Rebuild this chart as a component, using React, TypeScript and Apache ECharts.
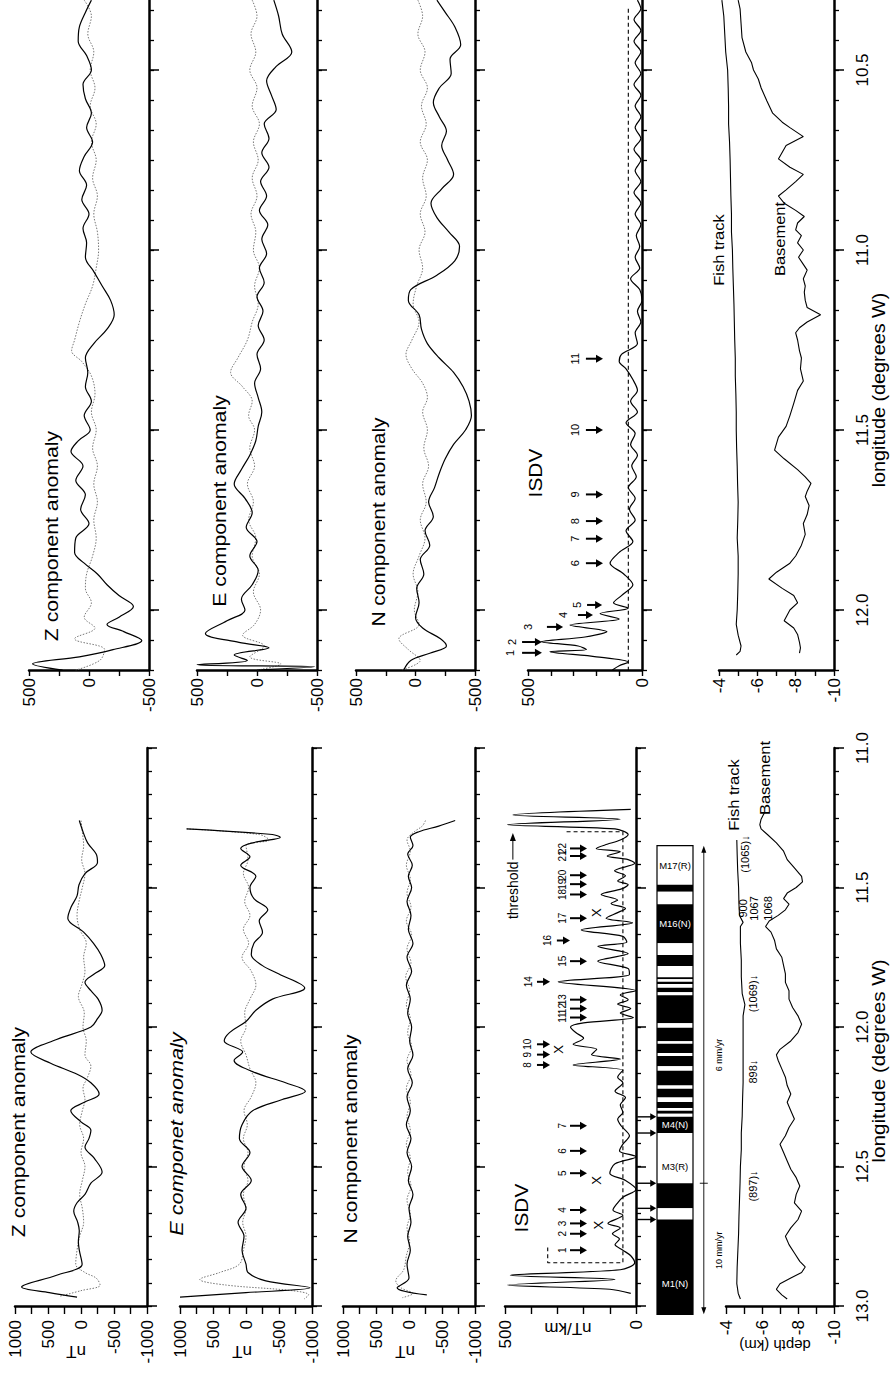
import React, { useEffect, useRef } from "react";
import * as echarts from "echarts";

// ================= DATA =================
// longitude tick values (degrees W); minor ticks every 5 minutes
const topMajorLon = [10.5, 11.0, 11.5, 12.0];
const botMajorLon = [11.0, 11.5, 12.0, 12.5, 13.0];
const topMinorLon = Array.from({ length: 23 }, (_, k) => (124 + k) / 12);
const botMinorLon = Array.from({ length: 25 }, (_, k) => (132 + k) / 12);

// ---- upper profile: [longitude, value] ----
const topZSolid = [[10.306,-20],[10.34,30],[10.38,80],[10.42,90],[10.46,20],[10.5,-20],[10.54,50],[10.58,30],[10.62,-20],[10.66,20],[10.7,-30],[10.74,40],[10.78,80],[10.82,20],[10.86,60],[10.9,0],[10.94,50],[10.98,20],[11.02,30],[11.06,-40],[11.1,-110],[11.14,-180],[11.18,-210],[11.22,-150],[11.26,-40],[11.3,30],[11.34,10],[11.38,30],[11.42,-20],[11.46,40],[11.5,-10],[11.53,90],[11.56,150],[11.6,50],[11.64,110],[11.68,30],[11.72,70],[11.76,0],[11.8,110],[11.84,120],[11.87,40],[11.9,-70],[11.93,-150],[11.96,-250],[11.99,-370],[12.02,-250],[12.04,-150],[12.06,-290],[12.085,-440],[12.11,-200],[12.13,80],[12.15,470],[12.167,220]];
const topZDot = [[10.306,40],[10.35,-20],[10.4,10],[10.45,-40],[10.5,-10],[10.55,-50],[10.6,-10],[10.65,-60],[10.7,-20],[10.75,-60],[10.8,-30],[10.85,-70],[10.9,-40],[10.95,-70],[11.0,-80],[11.05,-60],[11.1,-30],[11.15,30],[11.2,80],[11.25,120],[11.28,145],[11.31,60],[11.35,-20],[11.4,-50],[11.45,-20],[11.5,-60],[11.55,-30],[11.6,-70],[11.65,-40],[11.7,-70],[11.75,-40],[11.8,-60],[11.85,-30],[11.9,20],[11.94,30],[11.98,-20],[12.02,40],[12.05,-50],[12.08,120],[12.11,-130],[12.14,-90],[12.167,110]];
const topESolid = [[10.306,-140],[10.35,-180],[10.4,-210],[10.45,-290],[10.49,-160],[10.53,-80],[10.57,-120],[10.61,-160],[10.65,-60],[10.69,-100],[10.73,-40],[10.77,-100],[10.81,-30],[10.85,-80],[10.89,-20],[10.93,-90],[10.97,-40],[11.01,-80],[11.05,-20],[11.09,-60],[11.13,0],[11.17,-50],[11.21,-10],[11.25,-60],[11.29,0],[11.33,-30],[11.37,20],[11.41,-10],[11.45,-40],[11.49,-10],[11.53,10],[11.57,60],[11.61,130],[11.65,190],[11.69,100],[11.73,40],[11.77,90],[11.81,0],[11.85,60],[11.89,-10],[11.93,40],[11.97,130],[12.0,100],[12.03,250],[12.065,430],[12.09,150],[12.105,-100],[12.125,190],[12.14,80],[12.152,500],[12.158,-480],[12.167,0]];
const topEDot = [[10.306,40],[10.35,0],[10.4,50],[10.45,10],[10.5,60],[10.55,0],[10.6,40],[10.65,-20],[10.7,30],[10.75,-10],[10.8,40],[10.85,0],[10.9,50],[10.95,10],[11.0,30],[11.05,-20],[11.1,20],[11.15,-10],[11.2,40],[11.25,80],[11.3,160],[11.34,220],[11.38,120],[11.42,40],[11.46,70],[11.5,20],[11.55,60],[11.6,20],[11.65,80],[11.7,30],[11.75,70],[11.8,10],[11.85,40],[11.9,-20],[11.95,30],[12.0,-30],[12.04,20],[12.07,120],[12.1,-60],[12.13,60],[12.15,-200],[12.167,0]];
const topNSolid = [[10.306,-180],[10.34,-250],[10.38,-330],[10.43,-380],[10.47,-290],[10.51,-300],[10.55,-200],[10.59,-150],[10.63,-200],[10.67,-260],[10.71,-220],[10.75,-270],[10.79,-320],[10.83,-220],[10.87,-130],[10.91,-180],[10.95,-280],[10.99,-370],[11.03,-330],[11.07,-180],[11.11,40],[11.14,60],[11.18,-30],[11.22,-50],[11.26,-100],[11.3,-200],[11.34,-320],[11.38,-400],[11.42,-450],[11.46,-470],[11.5,-420],[11.54,-320],[11.58,-250],[11.62,-200],[11.66,-160],[11.7,-110],[11.74,-150],[11.78,-80],[11.82,-120],[11.86,-40],[11.9,-70],[11.94,-10],[11.98,-30],[12.02,0],[12.05,-60],[12.08,-210],[12.1,-260],[12.12,-120],[12.14,40],[12.167,100]];
const topNDot = [[10.306,-20],[10.35,-60],[10.4,-20],[10.45,-80],[10.5,-40],[10.55,-100],[10.6,-50],[10.65,-90],[10.7,-40],[10.75,-100],[10.8,-60],[10.85,-90],[10.9,-40],[10.95,-80],[11.0,-30],[11.05,-60],[11.1,-10],[11.15,20],[11.2,-30],[11.25,30],[11.29,80],[11.33,30],[11.37,-60],[11.41,-100],[11.45,-60],[11.5,-100],[11.55,-70],[11.6,-110],[11.65,-60],[11.7,-90],[11.75,-40],[11.8,-80],[11.85,-30],[11.9,20],[11.95,-20],[12.0,10],[12.04,-30],[12.08,140],[12.11,60],[12.14,-40],[12.167,120]];
const topISDV = [[10.306,20],[10.33,5],[10.36,35],[10.39,5],[10.42,35],[10.45,5],[10.48,30],[10.51,5],[10.54,35],[10.57,5],[10.6,30],[10.63,5],[10.66,30],[10.69,5],[10.72,35],[10.75,5],[10.78,30],[10.81,5],[10.84,35],[10.87,5],[10.9,30],[10.93,5],[10.96,25],[10.99,10],[11.02,30],[11.05,10],[11.08,50],[11.11,10],[11.14,0],[11.17,20],[11.2,5],[11.23,30],[11.26,20],[11.29,90],[11.31,100],[11.33,70],[11.36,40],[11.39,20],[11.42,50],[11.45,20],[11.48,70],[11.51,30],[11.54,50],[11.57,20],[11.6,45],[11.63,25],[11.66,60],[11.69,30],[11.72,55],[11.75,30],[11.78,70],[11.81,40],[11.84,100],[11.87,140],[11.9,80],[11.93,40],[11.96,90],[11.98,125],[11.995,60],[12.01,184],[12.025,100],[12.042,316],[12.06,154],[12.075,250],[12.088,441],[12.1,280],[12.11,243],[12.116,404],[12.13,200],[12.145,60],[12.155,100],[12.167,130]];
const topThreshold = [[10.33,60],[12.167,60]];
const topFish = [[10.306,-4.15],[10.35,-4.25],[10.4,-4.3],[10.45,-4.35],[10.5,-4.45],[10.55,-4.48],[10.6,-4.5],[10.65,-4.5],[10.7,-4.55],[10.75,-4.58],[10.8,-4.6],[10.85,-4.62],[10.9,-4.65],[10.95,-4.65],[11.0,-4.7],[11.05,-4.72],[11.1,-4.75],[11.15,-4.78],[11.2,-4.8],[11.25,-4.82],[11.3,-4.85],[11.35,-4.85],[11.4,-4.88],[11.45,-4.9],[11.5,-4.9],[11.55,-4.92],[11.6,-4.95],[11.65,-4.97],[11.7,-5.0],[11.75,-4.98],[11.8,-4.95],[11.85,-5.0],[11.9,-5.0],[11.95,-4.98],[12.0,-4.95],[12.04,-4.9],[12.07,-5.0],[12.1,-5.15],[12.115,-5.1],[12.125,-4.9]];
const topBase = [[10.306,-5.0],[10.33,-5.1],[10.37,-5.15],[10.41,-5.2],[10.45,-5.4],[10.48,-5.7],[10.5,-5.8],[10.525,-6.05],[10.55,-6.2],[10.586,-6.5],[10.62,-6.8],[10.645,-7.3],[10.66,-7.7],[10.685,-8.4],[10.71,-7.5],[10.747,-7.1],[10.77,-7.7],[10.79,-8.4],[10.81,-8.0],[10.833,-7.5],[10.85,-7.1],[10.87,-7.4],[10.89,-8.0],[10.907,-8.45],[10.925,-8.1],[10.944,-8.0],[10.96,-8.3],[10.98,-8.1],[11.0,-8.4],[11.02,-8.15],[11.04,-8.4],[11.056,-8.6],[11.08,-8.4],[11.1,-8.5],[11.117,-8.45],[11.14,-8.5],[11.16,-8.6],[11.18,-9.3],[11.2,-8.6],[11.216,-8.2],[11.23,-8.0],[11.25,-8.1],[11.28,-8.2],[11.3,-8.3],[11.33,-8.25],[11.364,-8.4],[11.39,-8.1],[11.426,-7.9],[11.46,-7.7],[11.49,-7.5],[11.52,-7.1],[11.556,-6.9],[11.58,-7.4],[11.61,-8.1],[11.63,-8.5],[11.648,-8.8],[11.67,-8.6],[11.685,-8.5],[11.71,-8.7],[11.735,-8.6],[11.76,-8.4],[11.79,-8.5],[11.82,-8.3],[11.85,-8.0],[11.87,-7.7],[11.895,-7.0],[11.914,-6.6],[11.94,-7.3],[11.96,-7.9],[11.98,-8.1],[12.0,-7.7],[12.03,-7.4],[12.05,-7.9],[12.068,-8.1],[12.09,-8.2],[12.105,-8.25],[12.12,-8.2]];
const topPeakLon = [12.119, 12.089, 12.047, 12.014, 11.986, 11.87, 11.802, 11.753, 11.679, 11.5, 11.302];
const topPeakNum = ["1","2","3","4","5","6","7","8","9","10","11"];

// ---- lower profile: [longitude, value] ----
const botZSolid = [[11.26,26],[11.3,-30],[11.34,-100],[11.38,-230],[11.41,-250],[11.45,-60],[11.49,30],[11.53,60],[11.57,150],[11.61,200],[11.66,-40],[11.7,-190],[11.74,-300],[11.78,-360],[11.81,-200],[11.84,-60],[11.87,-150],[11.9,-260],[11.94,-320],[11.97,-250],[12.0,-150],[12.045,370],[12.09,760],[12.13,460],[12.17,50],[12.2,-150],[12.24,-275],[12.27,-50],[12.3,155],[12.34,0],[12.37,-150],[12.4,-120],[12.43,-60],[12.47,-200],[12.52,-320],[12.56,-150],[12.6,-60],[12.63,60],[12.66,110],[12.7,50],[12.73,26],[12.77,40],[12.8,26],[12.85,-17],[12.89,370],[12.932,900],[12.952,480],[12.968,60]];
const botZDot = [[11.26,0],[11.3,-20],[11.35,-40],[11.4,-10],[11.45,-60],[11.5,-20],[11.55,30],[11.6,60],[11.65,20],[11.7,-80],[11.75,-40],[11.8,-60],[11.85,-10],[11.89,40],[11.95,-50],[12.0,-30],[12.05,-80],[12.1,-60],[12.14,-150],[12.18,-100],[12.22,-30],[12.26,-60],[12.3,-20],[12.35,20],[12.4,-40],[12.45,0],[12.5,-60],[12.55,-20],[12.6,20],[12.65,-20],[12.7,-40],[12.75,20],[12.8,60],[12.85,80],[12.88,-60],[12.9,-230],[12.925,-290],[12.945,0],[12.965,320]];
const botESolid = [[11.29,900],[11.31,-400],[11.32,-520],[11.34,-100],[11.36,80],[11.39,-60],[11.42,80],[11.46,-150],[11.5,-60],[11.54,-120],[11.58,-330],[11.62,-200],[11.66,-250],[11.7,-120],[11.74,-80],[11.78,-250],[11.81,-500],[11.86,-890],[11.9,-400],[11.94,-150],[11.98,0],[12.02,250],[12.05,330],[12.09,50],[12.12,180],[12.16,-100],[12.2,-600],[12.23,-900],[12.26,-550],[12.3,-100],[12.35,60],[12.4,100],[12.45,-60],[12.5,60],[12.55,-80],[12.6,80],[12.65,0],[12.7,120],[12.75,30],[12.8,60],[12.85,0],[12.88,-30],[12.91,-300],[12.935,-970],[12.952,0],[12.968,1000]];
const botEDot = [[11.29,900],[11.31,-200],[11.33,-350],[11.35,0],[11.4,-30],[11.45,40],[11.5,-40],[11.55,20],[11.6,-60],[11.65,40],[11.7,-40],[11.75,60],[11.8,-80],[11.85,-150],[11.9,-60],[11.95,20],[12.0,0],[12.05,80],[12.1,0],[12.15,-60],[12.2,-150],[12.25,-80],[12.3,30],[12.35,-20],[12.4,40],[12.45,-30],[12.5,30],[12.55,-30],[12.6,40],[12.65,0],[12.7,50],[12.75,0],[12.8,40],[12.85,100],[12.88,400],[12.905,700],[12.925,300],[12.945,-700],[12.96,-950],[12.975,-880]];
const botNSolid = [[11.26,-700],[11.28,-450],[11.3,-150],[11.32,-20],[11.35,-60],[11.38,20],[11.42,-50],[11.46,10],[11.5,-40],[11.55,30],[11.6,-30],[11.65,10],[11.7,-60],[11.75,30],[11.8,-40],[11.85,40],[11.9,-20],[11.95,20],[12.0,-40],[12.05,-10],[12.1,-60],[12.15,20],[12.2,-50],[12.25,30],[12.3,-20],[12.35,40],[12.4,-30],[12.45,30],[12.5,-40],[12.55,10],[12.6,-60],[12.65,0],[12.7,-30],[12.75,20],[12.8,-20],[12.85,30],[12.9,0],[12.935,180],[12.96,-270]];
const botNDot = [[11.26,-250],[11.28,-200],[11.3,-80],[11.33,30],[11.37,-20],[11.42,40],[11.47,-20],[11.52,30],[11.57,-30],[11.62,40],[11.67,-40],[11.72,30],[11.77,-30],[11.82,50],[11.87,-10],[11.92,40],[11.97,-20],[12.02,20],[12.07,-40],[12.12,30],[12.17,-30],[12.22,40],[12.27,-20],[12.32,30],[12.37,-20],[12.42,40],[12.47,-20],[12.52,20],[12.57,-30],[12.62,30],[12.67,-20],[12.72,30],[12.77,-10],[12.82,40],[12.87,80],[12.91,200],[12.935,120],[12.955,-60],[12.97,100]];
const botISDV = [[11.22,20],[11.24,470],[11.255,60],[11.275,490],[11.29,80],[11.31,30],[11.33,60],[11.345,110],[11.36,152],[11.372,60],[11.387,110],[11.4,30],[11.413,5],[11.44,82],[11.458,40],[11.477,70],[11.49,30],[11.505,55],[11.525,133],[11.545,70],[11.557,95],[11.575,40],[11.59,70],[11.61,114],[11.626,13],[11.652,209],[11.675,50],[11.695,35],[11.711,146],[11.737,30],[11.764,146],[11.79,30],[11.812,25],[11.838,297],[11.87,0],[11.885,60],[11.902,30],[11.918,70],[11.934,20],[11.95,60],[11.966,10],[11.985,200],[12.0,250],[12.02,230],[12.04,200],[12.062,240],[12.08,150],[12.099,170],[12.115,60],[12.136,240],[12.155,50],[12.18,70],[12.2,50],[12.23,80],[12.253,40],[12.28,60],[12.306,50],[12.33,70],[12.354,57],[12.39,25],[12.42,50],[12.444,63],[12.465,0],[12.49,80],[12.524,100],[12.55,40],[12.582,0],[12.61,50],[12.63,70],[12.656,88],[12.675,50],[12.704,107],[12.72,60],[12.741,90],[12.76,63],[12.78,80],[12.8,50],[12.82,20],[12.845,5],[12.87,60],[12.89,480],[12.905,80],[12.925,490],[12.94,100],[12.955,20]];
const botThresholdPath = [[11.3,265],[11.3,50],[12.845,50],[12.845,337],[12.79,337]];
const botFish = [[11.33,-4.6],[11.38,-4.62],[11.44,-4.65],[11.5,-4.7],[11.56,-4.72],[11.6,-4.75],[11.625,-4.95],[11.64,-4.8],[11.7,-4.8],[11.76,-4.85],[11.82,-4.85],[11.88,-4.9],[11.92,-5.05],[11.96,-4.95],[12.02,-4.95],[12.08,-4.95],[12.14,-4.95],[12.2,-4.95],[12.26,-4.92],[12.32,-4.9],[12.38,-4.85],[12.44,-4.85],[12.5,-4.8],[12.56,-4.78],[12.62,-4.75],[12.68,-4.72],[12.74,-4.7],[12.8,-4.66],[12.86,-4.62],[12.92,-4.6],[12.955,-4.68],[12.975,-4.8]];
const botBase = [[11.23,-6.15],[11.255,-5.95],[11.275,-5.88],[11.29,-5.95],[11.31,-6.3],[11.34,-6.8],[11.37,-7.2],[11.4,-7.4],[11.43,-7.8],[11.46,-8.2],[11.48,-8.25],[11.5,-7.9],[11.52,-7.4],[11.54,-7.2],[11.56,-7.5],[11.58,-7.3],[11.6,-6.9],[11.62,-6.4],[11.64,-6.2],[11.66,-6.5],[11.69,-6.7],[11.72,-6.8],[11.75,-7.1],[11.78,-7.2],[11.81,-7.3],[11.84,-7.3],[11.87,-7.5],[11.9,-7.5],[11.93,-7.7],[11.96,-8.0],[11.99,-8.2],[12.02,-8.0],[12.05,-7.6],[12.08,-7.0],[12.1,-6.8],[12.12,-6.9],[12.15,-7.1],[12.18,-7.3],[12.21,-7.4],[12.24,-7.6],[12.27,-7.4],[12.3,-7.6],[12.33,-7.8],[12.36,-7.5],[12.39,-7.3],[12.42,-7.0],[12.45,-7.2],[12.48,-7.4],[12.51,-7.6],[12.54,-7.9],[12.57,-8.1],[12.6,-7.9],[12.63,-7.8],[12.66,-8.2],[12.69,-8.0],[12.72,-7.6],[12.75,-7.3],[12.78,-7.5],[12.81,-7.8],[12.84,-8.1],[12.86,-8.4],[12.88,-8.2],[12.9,-7.6],[12.92,-7.0],[12.94,-6.8],[12.96,-7.1],[12.975,-7.4]];
const botPeakLon = [12.8,12.741,12.704,12.656,12.524,12.444,12.354,12.136,12.099,12.062,11.966,11.934,11.902,11.838,11.764,11.69,11.61,11.525,11.488,11.456,11.387,11.36];
const botPeakNum = ["1","2","3","4","5","6","7","8","9","10","11","12","13","14","15","16","17","18","19","20","21","22"];
const botCrossLon = [11.59, 12.08, 12.55, 12.71];
const botCrossVal = [150, 295, 150, 145];

// magnetic polarity blocks: [start lon, end lon, normal(1)/reversed(0)]
const chronBlocks = [[11.35,11.49,0],[11.49,11.515,1],[11.515,11.56,0],[11.56,11.7,1],[11.7,11.742,0],[11.742,11.781,1],[11.781,11.822,0],[11.822,11.829,1],[11.829,11.838,0],[11.838,11.846,1],[11.846,11.859,0],[11.859,11.875,1],[11.875,11.886,0],[11.886,11.987,1],[11.987,12.003,0],[12.003,12.051,1],[12.051,12.06,0],[12.06,12.093,1],[12.093,12.104,0],[12.104,12.141,1],[12.141,12.157,0],[12.157,12.21,1],[12.21,12.221,0],[12.221,12.253,1],[12.253,12.269,0],[12.269,12.29,1],[12.29,12.3,0],[12.3,12.311,1],[12.311,12.322,0],[12.322,12.38,1],[12.38,12.56,0],[12.56,12.65,1],[12.65,12.69,0],[12.69,13.03,1]];
const chronNames = ["M17(R)", "M16(N)", "M4(N)", "M3(R)", "M1(N)"];
const chronNameLon = [11.42, 11.63, 12.351, 12.5, 12.92];
const chronNameNormal = [0, 1, 1, 0, 1];
const chronPicks = [12.322, 12.38, 12.56, 12.65, 12.69];
const rateBreakLon = 12.56;
const rateNames = ["6 mm/yr", "10 mm/yr"];
const rateNameLon = [12.1, 12.8];

const siteNames = ["(1065)\u2193", "900", "1067", "1068", "(1069)\u2193", "898\u2193", "(897)\u2193"];
const siteLon = [11.38, 11.575, 11.575, 11.575, 11.88, 12.16, 12.57];
const siteDepth = [-5.05, -4.94, -5.56, -6.33, -5.5, -5.5, -5.5];

// ================= LAYOUT =================
const FONT = "'Liberation Sans', Arial, Helvetica, sans-serif";
const TOP = { top: 0, height: 670, lonMin: 10.3056, lonMax: 12.1667 };
const BOT = { top: 748, height: 558, lonMin: 11.0, lonMax: 13.0 };

type Panel = { left: number; width: number; min: number; max: number; interval: number; labels: number[] };
const topPanels: Panel[] = [
  { left: 29, width: 120, min: -500, max: 500, interval: 250, labels: [500, 0, -500] },
  { left: 197, width: 120, min: -500, max: 500, interval: 250, labels: [500, 0, -500] },
  { left: 356, width: 119, min: -500, max: 500, interval: 250, labels: [500, 0, -500] },
  { left: 528, width: 114, min: 0, max: 500, interval: 100, labels: [500, 0] },
  { left: 719, width: 115, min: -10, max: -4, interval: 1, labels: [-4, -6, -8, -10] },
];
const botPanels: Panel[] = [
  { left: 15, width: 132, min: -1000, max: 1000, interval: 250, labels: [1000, 500, 0, -500, -1000] },
  { left: 180, width: 132, min: -1000, max: 1000, interval: 250, labels: [1000, 500, 0, -500, -1000] },
  { left: 343, width: 132, min: -1000, max: 1000, interval: 250, labels: [1000, 500, 0, -500, -1000] },
  { left: 505, width: 131, min: 0, max: 500, interval: 100, labels: [500, 0] },
  { left: 726, width: 108, min: -10, max: -4, interval: 1, labels: [-4, -6, -8, -10] },
];
const BAR = { left: 657, width: 36 };

// arrow geometry on ISDV value scale (tail, tip, label position)
const topArrowTail = [526, 526, 417, 281, 241, 246, 246, 246, 246, 246, 246];
const topArrowTip = [439, 439, 346, 215, 175, 171, 171, 171, 171, 171, 171];
const topArrowText = [579, 570, 500, 346, 285, 294, 294, 294, 294, 294, 294];
const botArrowTail = botPeakNum.map((n) => (n === "14" || n === "8" || n === "9" || n === "10" ? 378 : n === "16" ? 302 : 252));
const botArrowTip = botPeakNum.map((n) => (n === "14" || n === "8" || n === "9" || n === "10" ? 328 : n === "16" ? 252 : 187));
const botArrowText = botPeakNum.map((n) => (n === "14" ? 412 : n === "8" || n === "9" || n === "10" ? 416 : n === "16" ? 336 : 282));

function flip(d: number[][]) {
  return d.map(([lon, v]) => [v, lon]);
}

function textEl(x: number, y: number, text: string, size: number, opts: any = {}) {
  return {
    type: "text",
    x,
    y,
    rotation: opts.rotation !== undefined ? opts.rotation : Math.PI / 2,
    scaleX: opts.scaleX || 1,
    silent: true,
    z: 100,
    style: {
      text,
      font: `${opts.italic ? "italic " : ""}${size}px ${FONT}`,
      fill: opts.color || "#000",
      align: "center",
      verticalAlign: "middle",
      textAlign: "center",
      textVerticalAlign: "middle",
    },
  };
}

function buildOption() {
  const grid: any[] = [];
  const xAxis: any[] = [];
  const yAxis: any[] = [];
  const series: any[] = [];

  const addHalf = (panels: Panel[], half: any, major: number[], minor: number[], labelMargin: number, tickLen: number) => {
    panels.forEach((p, i) => {
      const g = grid.length;
      grid.push({ left: p.left, width: p.width, top: half.top, height: half.height, outerBoundsMode: "none", containLabel: false });
      xAxis.push({
        type: "value", gridIndex: g, min: p.min, max: p.max, interval: p.interval, inverse: true, position: "bottom",
        axisLine: { show: true, onZero: false, lineStyle: { color: "#000", width: 2.5 } },
        axisTick: { show: true, length: tickLen, lineStyle: { color: "#000", width: 1.4 } },
        axisLabel: {
          show: true, rotate: 90, margin: labelMargin, color: "#000", fontSize: 17, fontFamily: FONT,
          formatter: (v: number) => (p.labels.indexOf(v) >= 0 ? String(v) : ""),
        },
        splitLine: { show: false },
      });
      const isDepth = i === panels.length - 1;
      yAxis.push({
        type: "value", gridIndex: g, min: half.lonMin, max: half.lonMax, inverse: true, position: "right",
        axisLine: { show: true, onZero: false, lineStyle: { color: "#000", width: 2.5 } },
        axisTick: { show: true, customValues: minor, length: 5, lineStyle: { color: "#000", width: 1.3 } },
        axisLabel: { show: false },
        splitLine: { show: false },
      });
      yAxis.push({
        type: "value", gridIndex: g, min: half.lonMin, max: half.lonMax, inverse: true, position: "right",
        axisLine: { show: false, onZero: false },
        axisTick: { show: true, customValues: major, length: 10, lineStyle: { color: "#000", width: 1.5 } },
        axisLabel: {
          show: isDepth, customValues: major, rotate: 90, margin: 20, color: "#000", fontSize: 17, fontFamily: FONT,
          formatter: (v: number) => v.toFixed(1),
        },
        splitLine: { show: false },
      });
    });
  };
  addHalf(topPanels, TOP, topMajorLon, topMinorLon, 8, 6);
  addHalf(botPanels, BOT, botMajorLon, botMinorLon, 14, 8);

  // polarity bar grid
  const barG = grid.length;
  grid.push({ left: BAR.left, width: BAR.width, top: BOT.top, height: BOT.height, outerBoundsMode: "none", containLabel: false });
  xAxis.push({ type: "value", gridIndex: barG, min: 0, max: 1, show: false });
  yAxis.push({ type: "value", gridIndex: barG, min: BOT.lonMin, max: BOT.lonMax, inverse: true, show: false });
  const barY = yAxis.length - 1;

  const solid = (g: number, d: number[][], smooth: any = 0.35, w = 1.2) => ({
    type: "line", xAxisIndex: g, yAxisIndex: 2 * g, data: flip(d), symbol: "none", showSymbol: false,
    smooth, silent: true, z: 3, lineStyle: { color: "#000", width: w },
  });
  const dotted = (g: number, d: number[][]) => ({
    type: "line", xAxisIndex: g, yAxisIndex: 2 * g, data: flip(d), symbol: "none", showSymbol: false,
    smooth: 0.35, silent: true, z: 2, lineStyle: { color: "#777", width: 1, type: [1.5, 1.5] },
  });
  const dashed = (g: number, d: number[][]) => ({
    type: "line", xAxisIndex: g, yAxisIndex: 2 * g, data: flip(d), symbol: "none", showSymbol: false,
    smooth: false, silent: true, z: 2, lineStyle: { color: "#000", width: 1.1, type: [4, 3] },
  });

  // upper half
  series.push(dotted(0, topZDot), solid(0, topZSolid));
  series.push(dotted(1, topEDot), solid(1, topESolid));
  series.push(dotted(2, topNDot), solid(2, topNSolid));
  series.push(dashed(3, topThreshold), solid(3, topISDV, 0.3));
  series.push(solid(4, topFish, false, 1.1), solid(4, topBase, false, 1.1));
  // lower half
  series.push(dotted(5, botZDot), solid(5, botZSolid));
  series.push(dotted(6, botEDot), solid(6, botESolid));
  series.push(dotted(7, botNDot), solid(7, botNSolid));
  series.push(dashed(8, botThresholdPath), solid(8, botISDV, 0.3));
  series.push(solid(9, botFish, false, 1.1), solid(9, botBase, false, 1.1));

  // arrows (custom series through axis scales)
  const arrowSeries = (g: number, yi: number, lons: number[], tails: number[], tips: number[], head = 7, half = 4, width = 2) => ({
    type: "custom", xAxisIndex: g, yAxisIndex: yi, silent: true, clip: false, z: 20,
    data: lons.map((lon, i) => [tips[i], lon, tails[i]]),
    renderItem: (params: any, api: any) => {
      const lon = api.value(1);
      const p1 = api.coord([api.value(0), lon]);
      const p0 = api.coord([api.value(2), lon]);
      const dir = p1[0] >= p0[0] ? 1 : -1;
      return {
        type: "group",
        children: [
          { type: "line", shape: { x1: p0[0], y1: p0[1], x2: p1[0] - dir * head * 0.7, y2: p1[1] }, style: { stroke: "#000", lineWidth: width } },
          { type: "polygon", shape: { points: [[p1[0], p1[1]], [p1[0] - dir * head, p1[1] - half], [p1[0] - dir * head, p1[1] + half]] }, style: { fill: "#000" } },
        ],
      };
    },
  });
  const labelSeries = (g: number, yi: number, vals: number[], lons: number[], texts: string[], size: number, color: any = "#000", rot = Math.PI / 2) => ({
    type: "custom", xAxisIndex: g, yAxisIndex: yi, silent: true, clip: false, z: 21,
    data: lons.map((lon, i) => [vals[i], lon]),
    renderItem: (params: any, api: any) => {
      const p = api.coord([api.value(0), api.value(1)]);
      const c = Array.isArray(color) ? color[params.dataIndex] : color;
      return {
        type: "text", x: p[0], y: p[1], rotation: rot,
        style: { text: texts[params.dataIndex], font: `${size}px ${FONT}`, fill: c, align: "center", verticalAlign: "middle", textAlign: "center", textVerticalAlign: "middle" },
      };
    },
  });

  series.push(arrowSeries(3, 6, topPeakLon, topArrowTail, topArrowTip));
  series.push(labelSeries(3, 6, topArrowText, topPeakLon, topPeakNum, 11));
  series.push(arrowSeries(8, 16, botPeakLon, botArrowTail, botArrowTip));
  series.push(labelSeries(8, 16, botArrowText, botPeakLon, botPeakNum, 10));
  series.push(labelSeries(8, 16, botCrossVal, botCrossLon, botCrossLon.map(() => "X"), 13));
  // depth-panel site labels
  series.push(labelSeries(9, 18, siteDepth, siteLon, siteNames, 11));

  // polarity bar
  series.push({
    type: "custom", xAxisIndex: barG, yAxisIndex: barY, silent: true, clip: false, z: 5,
    data: chronBlocks,
    renderItem: (params: any, api: any) => {
      const a = api.coord([0, api.value(0)]);
      const b = api.coord([1, api.value(1)]);
      const normal = api.value(2) === 1;
      return { type: "rect", shape: { x: a[0], y: a[1], width: b[0] - a[0], height: b[1] - a[1] }, style: { fill: normal ? "#000" : "#fff" } };
    },
  });
  series.push({
    type: "custom", xAxisIndex: barG, yAxisIndex: barY, silent: true, clip: false, z: 6,
    data: [[chronBlocks[0][0], chronBlocks[chronBlocks.length - 1][1]]],
    renderItem: (params: any, api: any) => {
      const a = api.coord([0, api.value(0)]);
      const b = api.coord([1, api.value(1)]);
      return { type: "rect", shape: { x: a[0], y: a[1], width: b[0] - a[0], height: b[1] - a[1] }, style: { fill: "none", stroke: "#000", lineWidth: 1.2 } };
    },
  });
  series.push(labelSeries(barG, barY, chronNames.map(() => 0.5), chronNameLon, chronNames, 9.5, chronNameNormal.map((n) => (n ? "#fff" : "#000")), 0));
  series.push(arrowSeries(barG, barY, chronPicks, chronPicks.map(() => -0.55), chronPicks.map(() => -0.02), 6, 3.5, 1.4));
  // spreading-rate line
  const rateTop = chronBlocks[0][0];
  const rateBot = chronBlocks[chronBlocks.length - 1][1];
  series.push({
    type: "custom", xAxisIndex: barG, yAxisIndex: barY, silent: true, clip: false, z: 6,
    data: [[1.3, rateTop, rateBot, rateBreakLon]],
    renderItem: (params: any, api: any) => {
      const a = api.coord([api.value(0), api.value(1)]);
      const b = api.coord([api.value(0), api.value(2)]);
      const m = api.coord([api.value(0), api.value(3)]);
      return {
        type: "group",
        children: [
          { type: "line", shape: { x1: a[0], y1: a[1] + 5, x2: b[0], y2: b[1] - 5 }, style: { stroke: "#000", lineWidth: 0.9 } },
          { type: "polygon", shape: { points: [[a[0], a[1]], [a[0] - 2.5, a[1] + 7], [a[0] + 2.5, a[1] + 7]] }, style: { fill: "#000" } },
          { type: "polygon", shape: { points: [[b[0], b[1]], [b[0] - 2.5, b[1] - 7], [b[0] + 2.5, b[1] - 7]] }, style: { fill: "#000" } },
          { type: "line", shape: { x1: m[0] - 4, y1: m[1], x2: m[0] + 4, y2: m[1] }, style: { stroke: "#000", lineWidth: 0.9 } },
        ],
      };
    },
  });
  series.push(labelSeries(barG, barY, [1.72, 1.72], rateNameLon, rateNames, 9));

  // threshold annotation (lower ISDV)
  series.push(labelSeries(8, 16, [470], [11.51], ["threshold"], 14));
  series.push({
    type: "custom", xAxisIndex: 8, yAxisIndex: 16, silent: true, clip: false, z: 20,
    data: [[470, 11.4, 11.305]],
    renderItem: (params: any, api: any) => {
      const a = api.coord([api.value(0), api.value(1)]);
      const b = api.coord([api.value(0), api.value(2)]);
      return {
        type: "group",
        children: [
          { type: "line", shape: { x1: a[0], y1: a[1], x2: b[0], y2: b[1] + 6 }, style: { stroke: "#000", lineWidth: 1 } },
          { type: "polygon", shape: { points: [[b[0], b[1]], [b[0] - 3, b[1] + 8], [b[0] + 3, b[1] + 8]] }, style: { fill: "#000" } },
        ],
      };
    },
  });

  const graphic: any[] = [
    // upper half titles
    textEl(51, 536, "Z component anomaly", 19, { scaleX: 1.12 }),
    textEl(219, 501, "E component anomaly", 19, { scaleX: 1.12 }),
    textEl(378, 522, "N component anomaly", 19, { scaleX: 1.1 }),
    textEl(535, 473, "ISDV", 19, { scaleX: 1.1 }),
    textEl(719, 250, "Fish track", 15, { scaleX: 1.1 }),
    textEl(780, 239, "Basement", 15, { scaleX: 1.1 }),
    textEl(879, 390, "longitude (degrees W)", 18, { scaleX: 1.1 }),
    // lower half titles
    textEl(18, 1132, "Z component anomaly", 19, { scaleX: 1.12 }),
    textEl(176, 1134, "E componet anomaly", 19, { scaleX: 1.14, italic: true }),
    textEl(350, 1139, "N component anomaly", 19, { scaleX: 1.1 }),
    textEl(521, 1208, "ISDV", 19, { scaleX: 1.1 }),
    textEl(734, 795, "Fish track", 15, { scaleX: 1.1 }),
    textEl(765, 778, "Basement", 15, { scaleX: 1.1 }),
    textEl(879, 1061, "longitude (degrees W)", 18, { scaleX: 1.15 }),
    // upside-down unit labels
    textEl(76, 1351, "nT", 17, { rotation: Math.PI }),
    textEl(242, 1351, "nT", 17, { rotation: Math.PI }),
    textEl(405, 1351, "nT", 17, { rotation: Math.PI }),
    textEl(568, 1328, "nT/km", 17, { rotation: Math.PI }),
    textEl(775, 1345, "depth (km)", 15, { rotation: Math.PI }),
  ];

  return { animation: false, backgroundColor: "#fff", grid, xAxis, yAxis, series, graphic };
}

export default function App() {
  const ref = useRef<HTMLDivElement>(null);
  useEffect(() => {
    document.body.style.margin = "0";
    if (!ref.current) return;
    const chart = echarts.init(ref.current, null, { renderer: "svg" });
    chart.setOption(buildOption() as any);
    return () => chart.dispose();
  }, []);
  return <div ref={ref} style={{ width: 892, height: 1379, background: "#fff" }} />;
}
